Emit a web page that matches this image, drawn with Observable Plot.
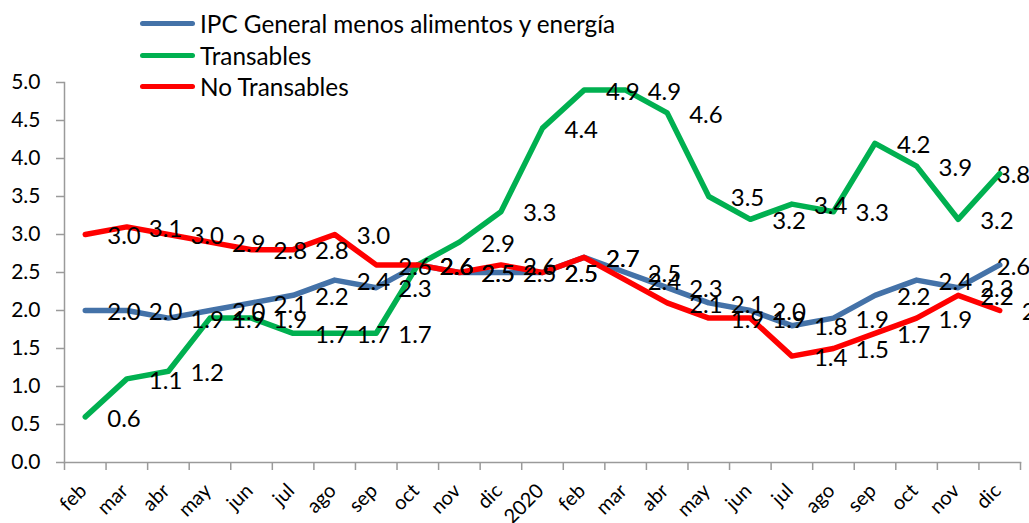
<!DOCTYPE html>
<html><head><meta charset="utf-8">
<script src="https://cdn.jsdelivr.net/npm/d3@7"></script>
<script src="https://cdn.jsdelivr.net/npm/@observablehq/plot@0.6"></script>
<style>
body{margin:0;background:#fff;font-family:Lato,sans-serif;}
#wrap{position:relative;width:1029px;height:523px;overflow:hidden;background:#fff;}
#legend{position:absolute;left:140px;top:8px;font-size:24.3px;color:#000;font-family:Lato,sans-serif;}
.item{display:flex;align-items:center;height:31.5px;white-space:nowrap;}
.sw{width:55px;height:5px;border-radius:3px;margin-right:5px;}
</style></head><body><div id="wrap"><div id="chart"></div><div id="legend"></div></div>
<script>
const months = ["feb","mar","abr","may","jun","jul","ago","sep","oct","nov","dic","2020","feb","mar","abr","may","jun","jul","ago","sep","oct","nov","dic"];
const seriesNames = ["IPC General menos alimentos y energía","Transables","No Transables"];
const seriesColors = ["#4472a8","#00b050","#ff0000"];
const ipcCore      = [2.0,2.0,1.9,2.0,2.1,2.2,2.4,2.3,2.6,2.5,2.5,2.5,2.7,2.5,2.3,2.1,2.0,1.8,1.9,2.2,2.4,2.3,2.6];
const transables   = [0.6,1.1,1.2,1.9,1.9,1.7,1.7,1.7,2.6,2.9,3.3,4.4,4.9,4.9,4.6,3.5,3.2,3.4,3.3,4.2,3.9,3.2,3.8];
const noTransables = [3.0,3.1,3.0,2.9,2.8,2.8,3.0,2.6,2.6,2.5,2.6,2.5,2.7,2.4,2.1,1.9,1.9,1.4,1.5,1.7,1.9,2.2,2.0];
const yTicks = [0,0.5,1,1.5,2,2.5,3,3.5,4,4.5,5];

const seriesValues = [ipcCore, transables, noTransables];
const n = months.length;
const rows = [];
seriesNames.forEach((s, k) => seriesValues[k].forEach((v, i) => rows.push({series: s, k, i, v})));
// last labels of blue/green are pulled back inside the chart (as in the original)
const shifted = d => d.i === n - 1 && d.k < 2;

const gray = "#9a9a9a";
const chart = Plot.plot({
  width: 1029, height: 523,
  marginLeft: 64, marginRight: 9, marginTop: 82, marginBottom: 61,
  style: {fontFamily: "Lato, sans-serif", fontSize: "21px", color: "#000", background: "#fff", overflow: "visible"},
  x: {type: "linear", domain: [-0.5, n - 0.5], axis: null},
  y: {domain: [0, 5], axis: null},
  color: {domain: seriesNames, range: seriesColors},
  marks: [
    Plot.frame({anchor: "left", stroke: gray, strokeWidth: 1.5}),
    Plot.frame({anchor: "bottom", stroke: gray, strokeWidth: 1.5}),
    Plot.axisY({ticks: yTicks, tickFormat: d3.format(".1f"), tickSize: 8, tickPadding: 16, stroke: gray, strokeWidth: 1.5, fill: "#000", fontSize: 21, label: null}),
    Plot.axisX({ticks: d3.range(-0.5, n, 1), tickSize: 8, tickFormat: () => "", stroke: gray, strokeWidth: 1.5, label: null}),
    Plot.axisX({ticks: d3.range(n), tickSize: 0, tickPadding: 22, tickRotate: -45, tickFormat: i => months[i], fill: "#000", fontSize: 20, dx: -2, dy: 3, label: null}),
    Plot.lineY(rows, {x: "i", y: "v", z: "series", stroke: "series", strokeWidth: 5.5, strokeLinejoin: "round", strokeLinecap: "round"}),
    Plot.text(rows.filter(d => !shifted(d)), {x: "i", y: "v", text: d => d.v.toFixed(1), textAnchor: "start", dx: 22, dy: 2, fontSize: 24, fill: "#000"}),
    Plot.text(rows.filter(shifted), {x: "i", y: "v", text: d => d.v.toFixed(1), textAnchor: "start", dx: -3, dy: 2, fontSize: 24, fill: "#000"})
  ]
});
document.getElementById("chart").appendChild(chart);

const legend = document.getElementById("legend");
seriesNames.forEach((s, k) => {
  const item = document.createElement("div");
  item.className = "item";
  const sw = document.createElement("span");
  sw.className = "sw";
  sw.style.background = seriesColors[k];
  const t = document.createElement("span");
  t.textContent = s;
  item.appendChild(sw); item.appendChild(t);
  legend.appendChild(item);
});
</script></body></html>
